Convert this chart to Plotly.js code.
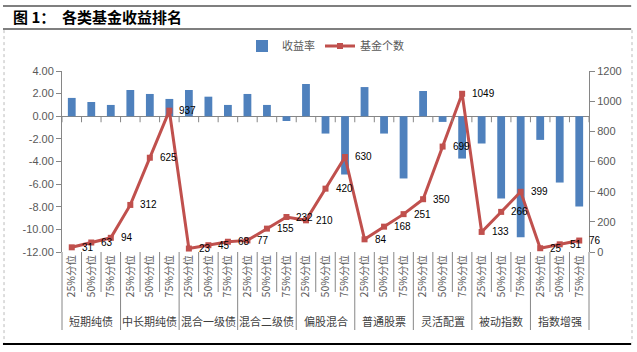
<!DOCTYPE html>
<html>
<head>
<meta charset="utf-8">
<script src="https://cdn.plot.ly/plotly-3.0.1.min.js"></script>
<style>html,body{margin:0;padding:0;background:#fff;}#chart{width:637px;height:352px;}</style>
</head>
<body>
<div id="chart"></div>
<script>
const groups = ["短期纯债", "中长期纯债", "混合一级债", "混合二级债", "偏股混合", "普通股票", "灵活配置", "被动指数", "指数增强"];
const subLabels = ["25%分位", "50%分位", "75%分位"];
const returnRate = [1.62, 1.26, 1.00, 2.32, 1.97, 1.53, 2.32, 1.73, 1.00, 1.97, 1.00, -0.42, 2.85, -1.53, -5.15, 2.58, -1.53, -5.50, 2.23, -0.50, -3.74, -2.41, -7.27, -10.70, -2.09, -5.86, -7.98];
const fundCount = [31, 63, 94, 312, 625, 937, 23, 45, 68, 77, 155, 232, 210, 420, 630, 84, 168, 251, 350, 699, 1049, 133, 266, 399, 25, 51, 76];
const leftTicks = [-12, -10, -8, -6, -4, -2, 0, 2, 4];
const rightTicks = [0, 200, 400, 600, 800, 1000, 1200];

const xIdx = [];
const xText = [];
groups.forEach(function (g) { subLabels.forEach(function (s) { xIdx.push(xIdx.length); xText.push(s); }); });

const CJK = '"Noto Sans CJK SC", "Liberation Sans", sans-serif';
const NUM = '"Liberation Sans", Arial, sans-serif';
const AX = '#868686';
const TXT = '#595959';

const bars = {
  type: 'bar', name: '收益率', x: xIdx, y: returnRate, yaxis: 'y',
  marker: {color: '#4F81BD'}, width: 0.4
};
const line = {
  type: 'scatter', mode: 'lines+markers', name: '基金个数', x: xIdx, y: fundCount, yaxis: 'y2',
  line: {color: '#C0504D', width: 3}, marker: {symbol: 'square', size: 6, color: '#C0504D'}
};

const shapes = [];
const annotations = [];
// small ticks on the zero line at category boundaries
for (let b = 0; b <= xIdx.length; b++) {
  shapes.push({type: 'line', xref: 'x', yref: 'y', ysizemode: 'pixel', yanchor: 0,
    x0: b - 0.5, x1: b - 0.5, y0: 0, y1: -6, line: {color: AX, width: 1}});
}
// category dividers under the plot
for (let b = 0; b <= xIdx.length; b++) {
  const isGroup = b % 3 === 0;
  const edge = (b === 0 || b === xIdx.length);
  shapes.push({type: 'line', xref: edge ? 'paper' : 'x', yref: 'paper', ysizemode: 'pixel', yanchor: 0,
    x0: edge ? (b === 0 ? 0 : 1) : b - 0.5, x1: edge ? (b === 0 ? 0 : 1) : b - 0.5,
    y0: 0, y1: isGroup ? -78 : -40, line: {color: AX, width: 1}});
}
// group labels
groups.forEach(function (g, k) {
  annotations.push({xref: 'x', yref: 'paper', x: k * 3 + 1, y: 0, yshift: -69, yanchor: 'middle',
    text: g, showarrow: false, font: {family: CJK, size: 11, color: '#404040'}});
});
// data labels of the line
fundCount.forEach(function (v, i) {
  annotations.push({xref: 'x', yref: 'y2', x: i, y: v, xanchor: 'left', yanchor: 'middle', xshift: 8, yshift: 0,
    text: String(v), showarrow: false, font: {family: NUM, size: 10, color: '#000'}});
});
// page frame
shapes.push({type: 'line', xref: 'paper', yref: 'paper', x0: -0.112, x1: 1.08, y0: 1.359, y1: 1.359, line: {color: '#000', width: 1.2}});
shapes.push({type: 'line', xref: 'paper', yref: 'paper', x0: -0.112, x1: 1.08, y0: 1.232, y1: 1.232, line: {color: '#000', width: 1.2}});
shapes.push({type: 'line', xref: 'paper', yref: 'paper', x0: -0.112, x1: 1.08, y0: -0.508, y1: -0.508, line: {color: '#000', width: 2}});
shapes.push({type: 'line', xref: 'paper', yref: 'paper', x0: -0.110, x1: -0.110, y0: 1.226, y1: -0.50, line: {color: '#BBBBBB', width: 1, dash: 'dot'}});
shapes.push({type: 'line', xref: 'paper', yref: 'paper', x0: 1.0816, x1: 1.0816, y0: 1.226, y1: -0.50, line: {color: '#BBBBBB', width: 1, dash: 'dot'}});

const layout = {
  width: 637, height: 352,
  margin: {l: 62, r: 48, t: 71, b: 100},
  paper_bgcolor: '#fff', plot_bgcolor: '#fff',
  title: {text: '<b>图 1：  各类基金收益排名</b>', x: 13 / 637, xanchor: 'left', xref: 'container',
    y: 1 - 17.5 / 352, yanchor: 'middle', yref: 'container', font: {family: CJK, size: 15, color: '#000'}},
  showlegend: true,
  legend: {orientation: 'h', x: 0.5, xanchor: 'center', y: 1.138, yanchor: 'middle',
    font: {family: CJK, size: 11, color: TXT}, bgcolor: 'rgba(0,0,0,0)', itemwidth: 30},
  bargap: 0.6,
  xaxis: {range: [-0.5, xIdx.length - 0.5], tickmode: 'array', tickvals: xIdx, ticktext: xText,
    tickangle: -90, ticks: '', showline: false, showgrid: false, zeroline: false,
    tickfont: {family: CJK, size: 10.5, color: TXT}, fixedrange: true},
  yaxis: {range: [-12, 4], tickmode: 'array', tickvals: leftTicks,
    ticktext: leftTicks.map(function (v) { return v.toFixed(2); }),
    showline: true, linecolor: AX, linewidth: 1, ticks: 'outside', ticklen: 5, tickcolor: AX,
    showgrid: false, zeroline: true, zerolinecolor: AX, zerolinewidth: 1,
    tickfont: {family: NUM, size: 11, color: TXT}, fixedrange: true},
  yaxis2: {range: [0, 1200], overlaying: 'y', side: 'right', tickmode: 'array', tickvals: rightTicks,
    showline: true, linecolor: AX, linewidth: 1, ticks: 'outside', ticklen: 5, tickcolor: AX,
    showgrid: false, zeroline: false, tickfont: {family: NUM, size: 11, color: TXT}, fixedrange: true},
  shapes: shapes,
  annotations: annotations
};

Plotly.newPlot('chart', [bars, line], layout, {staticPlot: true, displayModeBar: false});
</script>
</body>
</html>
